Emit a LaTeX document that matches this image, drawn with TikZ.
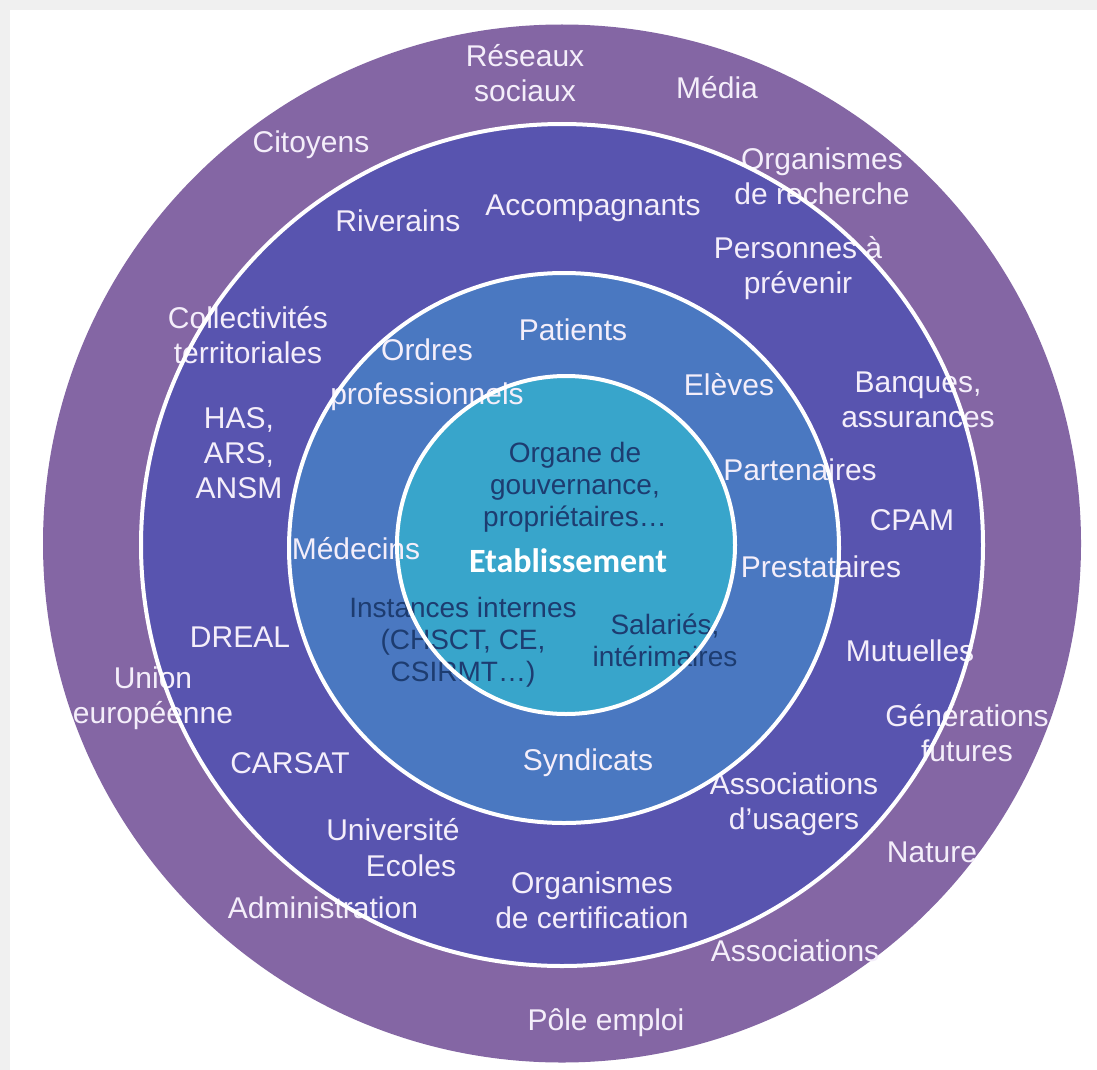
\documentclass[tikz,border=0pt]{standalone}
\usepackage{fontspec}
\setmainfont{Liberation Sans}
\newfontfamily\calib{Carlito}
\definecolor{bggray}{HTML}{F0F0F0}
\definecolor{ringA}{HTML}{8466A4}
\definecolor{ringB}{HTML}{5854AF}
\definecolor{ringC}{HTML}{4A78C1}
\definecolor{ringD}{HTML}{38A5CB}
\definecolor{lblwhite}{HTML}{F4EEFA}
\definecolor{navy}{HTML}{1D3C70}
\begin{document}
\begin{tikzpicture}[x=1pt,y=-1pt,
  lbl/.style={text=lblwhite, font=\fontsize{30}{35}\selectfont, align=center, inner sep=0pt},
  darklbl/.style={text=navy, font=\fontsize{28}{32}\selectfont, align=center, inner sep=0pt},
  ringline/.style={draw=white, line width=4pt}]
\useasboundingbox (0,0) rectangle (1097,1070);
\fill[bggray] (0,0) rectangle (1097,1070);
\fill[white] (10,10) rectangle (1097,1070);
% discs
\fill[ringA] (562,543.5) circle[radius=519pt];
\fill[ringB] (562,545) circle[radius=421pt];
\fill[ringC] (564,548) circle[radius=275pt];
\fill[ringD] (566,545) circle[radius=169pt];
% outer ring labels
\node[lbl] (reseaux) at (525,73) {Réseaux\\sociaux};
\node[lbl] (media) at (717,88) {Média};
\node[lbl] (citoyens) at (311,145) {Citoyens};
\node[lbl] (orgrech) at (822,176) {Organismes\\de recherche};
\node[lbl] (union) at (153,698) {Union\\européenne};
\node[lbl] (generations) at (967,733) {Générations\\futures};
\node[lbl] (nature) at (932,852) {Nature};
\node[lbl] (admin) at (323,908) {Administration};
\node[lbl] (assoc) at (795,951) {Associations};
\node[lbl] (pole) at (606,1023) {Pôle emploi};
% second ring labels
\node[lbl] (riverains) at (398,221) {Riverains};
\node[lbl] (accomp) at (593,208) {Accompagnants};
\node[lbl] (personnes) at (798,268) {Personnes à\\prévenir};
\node[lbl] (collect) at (248,335) {Collectivités\\territoriales};
\node[lbl] (banques) at (918,400) {Banques,\\assurances};
\node[lbl] (has) at (239,453) {HAS,\\ARS,\\ANSM};
\node[lbl] (cpam) at (912,520) {CPAM};
\node[lbl] (dreal) at (240,637) {DREAL};
\node[lbl] (mutuelles) at (910,651) {Mutuelles};
\node[lbl] (carsat) at (290,763) {CARSAT};
\node[lbl] (assocus) at (794,804) {Associations\\d’usagers};
\node[lbl] (univ) at (393,830) {Université};
\node[lbl] (ecoles) at (411,866) {Ecoles};
\node[lbl] (orgcert) at (592,900) {Organismes\\de certification};
% third ring labels
\node[lbl] (ordres) at (427,350) {Ordres};
\node[lbl] (profs) at (427,397) {professionnels};
\node[lbl] (patients) at (573,330) {Patients};
\node[lbl] (eleves) at (729,385) {Elèves};
\node[lbl] (partenaires) at (800,470) {Partenaires};
\node[lbl] (medecins) at (356,549) {Médecins};
\node[lbl] (prestataires) at (821,567) {Prestataires};
\node[lbl] (syndicats) at (588,763) {Syndicats};
% inner labels
\node[darklbl] (organe) at (575,487) {Organe de\\gouvernance,\\propriétaires…};
\node[text=white, inner sep=0pt, font=\calib\bfseries\fontsize{34}{38}\selectfont] (etab) at (568,561) {Etablissement};
\node[darklbl] (instances) at (463,642) {Instances internes\\(CHSCT, CE,\\CSIRMT…)};
\node[darklbl] (salaries) at (665,640) {Salariés,\\intérimaires};
% white ring lines on top
\draw[ringline] (562,545) circle[radius=421pt];
\draw[ringline] (564,548) circle[radius=275pt];
\draw[ringline] (566,545) circle[radius=169pt];
\end{tikzpicture}
\end{document}
